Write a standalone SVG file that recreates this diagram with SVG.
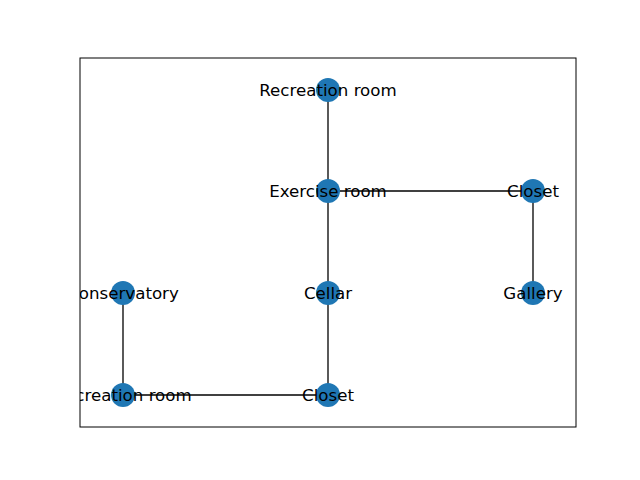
<svg xmlns="http://www.w3.org/2000/svg" width="640" height="480" viewBox="0 0 640 480">
<style>
.edge{stroke:#000;stroke-width:1.3;fill:none}
.node{fill:#1f77b4}
.lbl{font-family:"DejaVu Sans",sans-serif;font-size:16.67px;fill:#000;text-anchor:middle}
</style>
<defs><clipPath id="ax"><rect x="80" y="58" width="496" height="369"/></clipPath></defs>
<rect width="640" height="480" fill="#fff"/>
<g clip-path="url(#ax)">
<g id="edges">
<line class="edge" x1="328" y1="90" x2="328" y2="191"/>
<line class="edge" x1="328" y1="191" x2="533" y2="191"/>
<line class="edge" x1="533" y1="191" x2="533" y2="293"/>
<line class="edge" x1="328" y1="191" x2="328" y2="293"/>
<line class="edge" x1="328" y1="293" x2="328" y2="395"/>
<line class="edge" x1="328" y1="395" x2="123" y2="395"/>
<line class="edge" x1="123" y1="293" x2="123" y2="395"/>
</g>
<g id="n_recreation_top"><circle class="node" cx="328" cy="90" r="12"/><text class="lbl" x="328" y="95.5">Recreation room</text></g>
<g id="n_exercise"><circle class="node" cx="328" cy="191" r="12"/><text class="lbl" x="328" y="196.5">Exercise room</text></g>
<g id="n_closet_right"><circle class="node" cx="533" cy="191" r="12"/><text class="lbl" x="533" y="196.5">Closet</text></g>
<g id="n_conservatory"><circle class="node" cx="123" cy="293" r="12"/><text class="lbl" x="123" y="298.5">Conservatory</text></g>
<g id="n_cellar"><circle class="node" cx="328" cy="293" r="12"/><text class="lbl" x="328" y="298.5">Cellar</text></g>
<g id="n_gallery"><circle class="node" cx="533" cy="293" r="12"/><text class="lbl" x="533" y="298.5">Gallery</text></g>
<g id="n_recreation_left"><circle class="node" cx="123" cy="395" r="12"/><text class="lbl" x="123" y="400.5">Recreation room</text></g>
<g id="n_closet_bottom"><circle class="node" cx="328" cy="395" r="12"/><text class="lbl" x="328" y="400.5">Closet</text></g>
</g>
<rect x="80" y="58" width="496" height="369" fill="none" stroke="#000" stroke-width="1"/>
</svg>
